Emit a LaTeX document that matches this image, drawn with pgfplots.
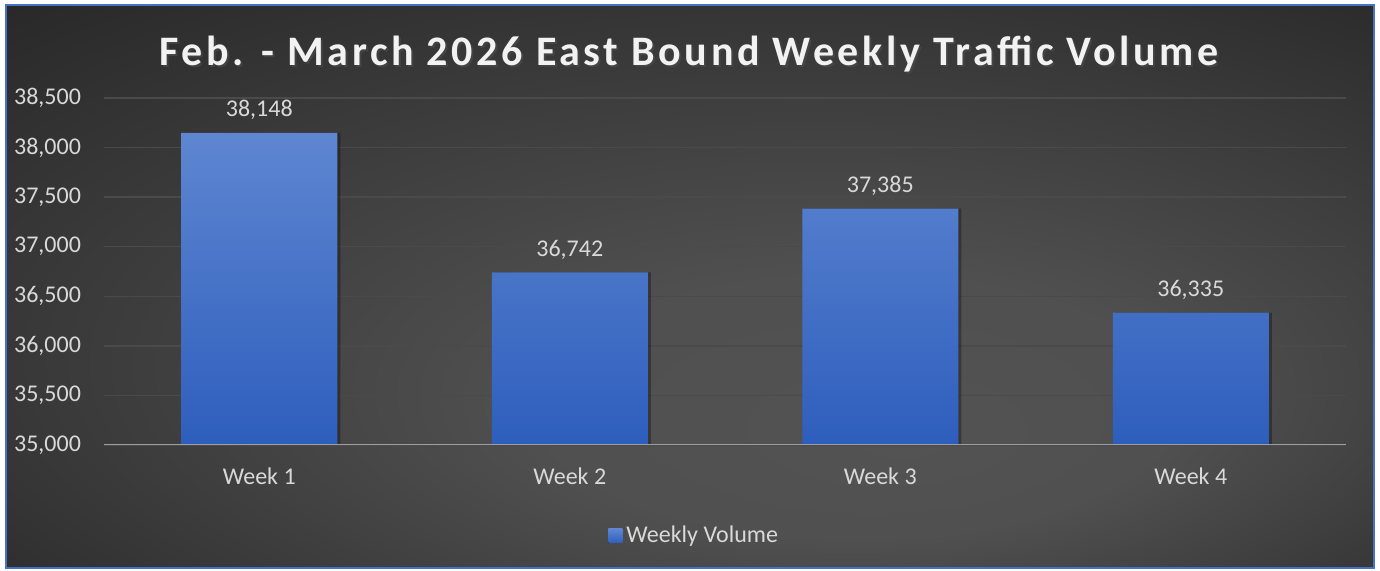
\documentclass[border=0pt]{standalone}
\usepackage{pgfplots}
\pgfplotsset{compat=1.18}
\usepackage{fontspec}
\setmainfont{Carlito}
\newfontfamily\titlefont[LetterSpace=8.6]{Carlito}
\definecolor{tickc}{HTML}{D9D9D9}
\definecolor{gridc}{HTML}{4A4A4A}
\definecolor{bartop}{HTML}{5E86D1}
\definecolor{barbot}{HTML}{2E5EBD}
\definecolor{framec}{HTML}{4472C4}
\definecolor{bgdark}{HTML}{272727}
\definecolor{bglight}{HTML}{535353}
\pgfdeclareradialshading{bgshade}{\pgfpoint{8bp}{-14bp}}{color(0bp)=(bglight); color(12bp)=(bglight!92!bgdark); color(40bp)=(bgdark); color(50bp)=(bgdark)}
\pgfplotstableread{
x y
0 38148
1 36742
2 37385
3 36335
}\datatable
\begin{document}
\begin{tikzpicture}[x=0.5pt,y=0.5pt]
\fill[white] (0,0) rectangle (1380,571);
\shade[shading=bgshade] (6,3) rectangle (1374,566);
\draw[framec, line width=1pt] (6,3) rectangle (1374,566);
\begin{axis}[
  at={(52pt,63pt)}, anchor=south west,
  width=621pt, height=173.5pt, scale only axis,
  xmin=-0.5, xmax=3.5, ymin=35000, ymax=38500,
  ytick={35000,35500,...,38500},
  scaled y ticks=false,
  xtick={0,1,2,3}, xticklabels={Week 1,Week 2,Week 3,Week 4},
  axis line style={draw=none},
  tick style={draw=none},
  major tick length=0pt,
  ymajorgrids, grid style={gridc, line width=0.75pt},
  tick label style={tickc, font=\fontsize{12}{14}\selectfont},
  /pgf/number format/assume math mode=true,
  /pgf/number format/.cd, fixed, 1000 sep={,}, /pgfplots/.cd,
  yticklabel style={xshift=-8pt},
  xticklabel style={yshift=-8pt},
  ybar, bar width=78pt,
  legend style={at={(0.476,-0.262)}, anchor=center, draw=none, fill=none, text=tickc, font=\fontsize{12}{14}\selectfont},
  legend image code/.code={\fill[top color=bartop, bottom color=barbot] (0pt,-3.5pt) rectangle (7pt,3.5pt);},
]
\addplot[draw=none, fill=black, opacity=0.3, bar shift=1.5pt, forget plot] table[x=x,y=y] {\datatable};
\addplot[draw=none, top color=bartop, bottom color=barbot,
  nodes near coords,
  nodes near coords style={tickc, font=\fontsize{12}{14}\selectfont, anchor=south, yshift=3pt, /pgf/number format/assume math mode=true}] table[x=x,y=y] {\datatable};
\addlegendentry{Weekly Volume}
\draw[gray!75, line width=1pt] (axis cs:-0.5,35000) -- (axis cs:3.5,35000);
\end{axis}
\node[text=black!70, opacity=0.6, font=\titlefont\fontsize{21}{24}\selectfont\bfseries] at (691,515) {Feb. - March 2026 East Bound Weekly Traffic Volume};
\node[text=white!95!black, font=\titlefont\fontsize{21}{24}\selectfont\bfseries] at (689,517) {Feb. - March 2026 East Bound Weekly Traffic Volume};
\pgfresetboundingbox
\useasboundingbox (0,0) rectangle (1380,571);
\end{tikzpicture}
\end{document}
